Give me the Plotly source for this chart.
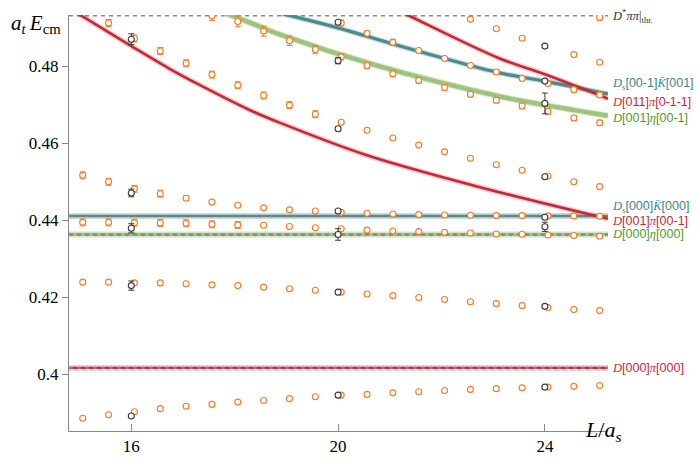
import plotly.graph_objects as go

# ---------------- data ----------------
L_ORANGE = [15.0, 15.5, 16.0, 16.5, 17.0, 17.5, 18.0, 18.5, 19.0, 19.5, 20.0,
            20.5, 21.0, 21.5, 22.0, 22.5, 23.0, 23.5, 24.0, 24.5, 25.0]

E_LVL1 = [0.3885, 0.3894, 0.3902, 0.3910, 0.3916, 0.3921, 0.3927, 0.3931, 0.3936, 0.3941, 0.3945,
          0.3947, 0.3951, 0.3954, 0.3957, 0.3960, 0.3962, 0.3964, 0.3966, 0.3968, 0.3970]
E_LVL2 = [0.4239, 0.4239, 0.4237, 0.4237, 0.4235, 0.4232, 0.4230, 0.4226, 0.4222, 0.4218, 0.4213,
          0.4208, 0.4204, 0.4199, 0.4194, 0.4188, 0.4183, 0.4178, 0.4173, 0.4168, 0.4165]
E_LVL3 = [0.43945, 0.43945, 0.43937, 0.43930, 0.43920, 0.43894, 0.43879, 0.43869, 0.43837, 0.43804, 0.43779,
          0.43744, 0.43719, 0.43704, 0.43686, 0.43668, 0.43643, 0.43636, 0.43618, 0.43603, 0.43585]
ERR_LVL3 = [0.0009] * 7 + [0] * 14
E_LVL4 = [0.45168, 0.45000, 0.44817, 0.44691, 0.44573, 0.44472, 0.44389, 0.44322, 0.44271, 0.44239, 0.44206,
          0.44181, 0.44163, 0.44146, 0.44138, 0.44131, 0.44121, 0.44121, 0.44113, 0.44113, 0.44106]
ERR_LVL4 = [0.0009, 0.0009, 0.0009, 0.0009, 0.0006] + [0] * 16

L_LVL5 = L_ORANGE[1:]
E_LVL5 = [0.49131, 0.48729, 0.48402, 0.48083, 0.47789, 0.47513, 0.47246, 0.46995, 0.46759, 0.46550,
          0.46342, 0.46141, 0.45955, 0.45779, 0.45613, 0.45445, 0.45302, 0.45151, 0.45000, 0.44874]
ERR_LVL5 = [0.0009] * 9 + [0] * 11

L_LVL6 = L_ORANGE[5:]
E_LVL6 = [0.4932, 0.49171, 0.48920, 0.48668, 0.48442, 0.48251, 0.48025, 0.47814, 0.47638, 0.47455,
          0.47279, 0.47121, 0.46970, 0.46827, 0.46658, 0.46533]
ERR_LVL6 = [0.0012, 0.0014, 0.0013, 0.0012, 0.0010, 0.0008, 0.0008, 0.0008, 0.0007, 0.0007,
            0.0007, 0.0007, 0.0007, 0.0007, 0.0007, 0.0007]

L_LVL7 = L_ORANGE[10:]
E_LVL7 = [0.49131, 0.48862, 0.48628, 0.48417, 0.48209, 0.48025, 0.47857, 0.47688, 0.47555, 0.47397, 0.47261]
ERR_LVL7 = [0.0008, 0.0006, 0.0008, 0, 0, 0, 0.0006, 0, 0, 0.0006, 0.0006]

L_LVL8 = [22.5, 23.0, 23.5, 24.5, 25.0]
E_LVL8 = [0.49231, 0.48980, 0.48736, 0.48309, 0.48108]

L_LVL9 = [25.0]
E_LVL9 = [0.4928]
ERR_LVL9 = [0.0008]

BLACK_L = [16, 16, 16, 16, 16,
           20, 20, 20, 20, 20, 20, 20,
           24, 24, 24, 24, 24, 24, 24, 24]
BLACK_E = [0.3891, 0.4230, 0.4379, 0.4471, 0.4871,
           0.3945, 0.4213, 0.4363, 0.4424, 0.4638, 0.4815, 0.4915,
           0.3966, 0.4176, 0.4383, 0.4408, 0.4513, 0.4704, 0.4762, 0.4853]
BLACK_ERR = [0.0004, 0.0012, 0.0012, 0.0010, 0.0014,
             0.0002, 0.0003, 0.0015, 0.0004, 0.0005, 0.0008, 0.0004,
             0.0002, 0.0003, 0.0012, 0.0004, 0.0004, 0.0027, 0.0004, 0.0004]

# non-interacting curves
CUR_DPI_001_L = [14.90, 15.064, 16.0, 16.741, 17.321, 18.288, 18.868, 20.545, 22.745, 25.219]
CUR_DPI_001_E = [0.4942, 0.49296, 0.4853, 0.47940, 0.4752, 0.46869, 0.4654, 0.45696, 0.44859, 0.44038]
CUR_DETA_001_L = [17.70, 17.96, 18.288, 18.868, 20.706, 23.124, 24.014, 25.219]
CUR_DETA_001_E = [0.4945, 0.49314, 0.49146, 0.48837, 0.48040, 0.47221, 0.46995, 0.46718]
CUR_DSK_001_L = [18.80, 19.095, 19.996, 21.060, 22.060, 23.124, 24.014, 25.219]
CUR_DSK_001_E = [0.4941, 0.49314, 0.49005, 0.48585, 0.48209, 0.47832, 0.47613, 0.47286]
CUR_DPI_011_L = [21.20, 21.383, 23.124, 24.014, 25.219]
CUR_DPI_011_E = [0.4943, 0.49314, 0.48209, 0.47789, 0.47161]

E_DPI_000 = 0.4016
E_DETA_000 = 0.4363
E_DSK_000 = 0.4411
E_THR = 0.4932

X_RANGE = [14.795, 25.221]
Y_RANGE = [0.38518, 0.49339]
X_TICKS = [16, 20, 24]
X_TICKTEXT = ["16", "20", "24"]
Y_TICKS = [0.40, 0.42, 0.44, 0.46, 0.48]
Y_TICKTEXT = ["0.4", "0.42", "0.44", "0.46", "0.48"]

ORANGE_SHIFT = 0.06

# ---------------- styles ----------------
RED = "#c42a35"
TEAL = "#4b8b8c"
GREEN = "#9ec47e"
ORANGE = "#f67a25"
DARK = "#3a3a3a"
GRAY = "#808080"

fig = go.Figure()


def band(x, y, core, halo, w_core, w_halo, shape="spline"):
    fig.add_trace(go.Scatter(x=x, y=y, mode="lines", line=dict(color=halo, width=w_halo, shape=shape),
                             hoverinfo="skip", showlegend=False))
    fig.add_trace(go.Scatter(x=x, y=y, mode="lines", line=dict(color=core, width=w_core, shape=shape),
                             hoverinfo="skip", showlegend=False))


def hline(e, core, halo, w_core, w_halo):
    xs = X_RANGE
    ys = [e, e]
    band(xs, ys, core, halo, w_core, w_halo, shape="linear")
    fig.add_trace(go.Scatter(x=xs, y=ys, mode="lines",
                             line=dict(color=GRAY, width=2, dash="4px,4px"),
                             hoverinfo="skip", showlegend=False))


# threshold
fig.add_trace(go.Scatter(x=X_RANGE, y=[E_THR, E_THR], mode="lines",
                         line=dict(color="#8a8a8a", width=1.5, dash="4px,4px"),
                         hoverinfo="skip", showlegend=False))

hline(E_DPI_000, RED, "rgba(210,60,70,0.25)", 2.2, 6)
hline(E_DETA_000, GREEN, "rgba(158,196,126,0.45)", 3, 6)
hline(E_DSK_000, TEAL, "rgba(75,139,140,0.30)", 2.6, 6)

band(CUR_DPI_001_L, CUR_DPI_001_E, RED, "rgba(210,60,70,0.25)", 2.6, 5.5)
band(CUR_DETA_001_L, CUR_DETA_001_E, GREEN, "rgba(158,196,126,0.4)", 4.5, 6.5)
fig.add_trace(go.Scatter(x=CUR_DETA_001_L, y=CUR_DETA_001_E, mode="lines",
                         line=dict(color="rgba(110,140,100,0.45)", width=1, dash="1px,7px", shape="spline"),
                         hoverinfo="skip", showlegend=False))
band(CUR_DSK_001_L, CUR_DSK_001_E, TEAL, "rgba(75,139,140,0.30)", 3.2, 5.5)
band(CUR_DPI_011_L, CUR_DPI_011_E, RED, "rgba(210,60,70,0.25)", 2.6, 5.5)


def orange(Ls, Es, errs=None):
    xs = [l + ORANGE_SHIFT for l in Ls]
    kw = {}
    if errs is not None:
        kw["error_y"] = dict(type="data", array=errs, visible=True, color=ORANGE, thickness=1, width=3)
    fig.add_trace(go.Scatter(x=xs, y=Es, mode="markers",
                             marker=dict(symbol="circle", size=6, color="white",
                                         line=dict(color=ORANGE, width=1.1)),
                             showlegend=False, **kw))


orange(L_ORANGE, E_LVL1)
orange(L_ORANGE, E_LVL2)
orange(L_ORANGE, E_LVL3, ERR_LVL3)
orange(L_ORANGE, E_LVL4, ERR_LVL4)
orange(L_LVL5, E_LVL5, ERR_LVL5)
orange(L_LVL6, E_LVL6, ERR_LVL6)
orange(L_LVL7, E_LVL7, ERR_LVL7)
orange(L_LVL8, E_LVL8)
orange(L_LVL9, E_LVL9, ERR_LVL9)

fig.add_trace(go.Scatter(x=BLACK_L, y=BLACK_E, mode="markers",
                         marker=dict(symbol="circle", size=6, color="white",
                                     line=dict(color=DARK, width=1.1)),
                         error_y=dict(type="data", array=BLACK_ERR, visible=True, color=DARK,
                                      thickness=1, width=3),
                         showlegend=False))

# ---------------- labels ----------------
SERIF = "Liberation Serif"


def br(s):
    return '<span style="font-family:Liberation Sans">[' + s + ']</span>'


LABELS = [
    (E_THR, "<i>D</i><sup>*</sup><i>ππ</i>|<sub>thr.</sub>", "#333333"),
    (0.47538, "<i>D</i><sub><i>s</i></sub>" + br("00-1") + "<i>K\u0304</i>" + br("001"), "#3d8686"),
    (0.47078, "<i>D</i>" + br("011") + "<i>π</i>" + br("0-1-1"), "#c8283c"),
    (0.46658, "<i>D</i>" + br("001") + "<i>η</i>" + br("00-1"), "#4f9a2d"),
    (0.44357, "<i>D</i><sub><i>s</i></sub>" + br("000") + "<i>K\u0304</i>" + br("000"), "#3d8686"),
    (0.43980, "<i>D</i>" + br("001") + "<i>π</i>" + br("00-1"), "#c8283c"),
    (0.43643, "<i>D</i>" + br("000") + "<i>η</i>" + br("000"), "#4f9a2d"),
    (0.40168, "<i>D</i>" + br("000") + "<i>π</i>" + br("000"), "#c8283c"),
]
for y, t, c in LABELS:
    fig.add_annotation(x=1.006, xref="paper", y=y, yref="y", text=t, showarrow=False,
                       xanchor="left", yanchor="middle", borderpad=0,
                       font=dict(family=SERIF, size=12.5, color=c))

fig.add_annotation(x=-0.011, xref="paper", y=0.978, yref="paper",
                   text="<i>a</i><sub><i>t</i></sub>\u2009<i>E</i><sub>cm</sub>", showarrow=False,
                   xanchor="right", yanchor="middle", font=dict(family=SERIF, size=21, color="black"))
fig.add_annotation(x=0.991, xref="paper", y=0.0, yref="paper",
                   text="<i>L</i>/<i>a</i><sub><i>s</i></sub>", showarrow=False,
                   xanchor="center", yanchor="middle", font=dict(family=SERIF, size=22, color="black"))

fig.update_layout(
    width=700, height=468,
    margin=dict(l=69, r=92, t=15, b=22),
    paper_bgcolor="white", plot_bgcolor="white",
    showlegend=False,
    xaxis=dict(range=X_RANGE, tickvals=X_TICKS, ticktext=X_TICKTEXT, showgrid=False, zeroline=False,
               showline=True, linecolor="#888888", linewidth=1, ticks="inside", ticklen=7,
               tickcolor="#888888", tickfont=dict(family=SERIF, size=17, color="black")),
    yaxis=dict(range=Y_RANGE, tickvals=Y_TICKS, ticktext=Y_TICKTEXT, showgrid=False, zeroline=False,
               showline=True, linecolor="#888888", linewidth=1, ticks="outside", ticklen=6,
               tickcolor="#888888", tickfont=dict(family=SERIF, size=17, color="black")),
)

fig.write_html("out.html")
